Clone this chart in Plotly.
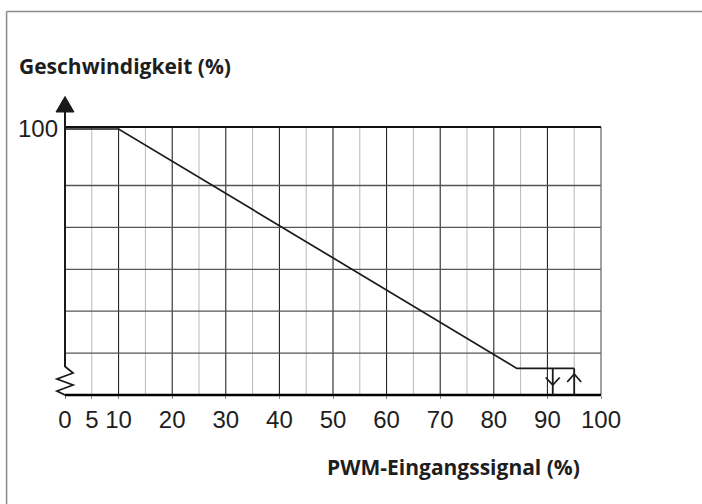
import plotly.graph_objects as go

# Fan speed characteristic vs. PWM input signal
pwm_pct = [0, 10, 84.3, 95]          # PWM-Eingangssignal (%)
speed_pct = [100, 100, 10, 10]       # Geschwindigkeit (%)

# hysteresis markers at the stop/start thresholds
hyst_pwm = [91, 95]
hyst_dir = ["down", "up"]

x_ticks = [0, 5, 10, 20, 30, 40, 50, 60, 70, 80, 90, 100]
x_tick_text = [str(v) for v in x_ticks]
x_major = [10, 20, 30, 40, 50, 60, 70, 80, 90]
x_minor = [5, 15, 25, 35, 45, 55, 65, 75, 85, 95]
y_grid = [15.75, 31.5, 47.25, 63.0, 78.75]
y_ticks = [100]
y_tick_text = ["100"]

Y_TOP = 100.75
LINE = "#1a1a1a"

fig = go.Figure()

fig.add_trace(go.Scatter(
    x=pwm_pct, y=speed_pct, mode="lines",
    line=dict(color=LINE, width=1.7), hoverinfo="skip", showlegend=False,
))

shapes = []
# grid
for v in x_minor:
    shapes.append(dict(type="line", xref="x", yref="y", x0=v, x1=v, y0=0, y1=Y_TOP,
                       line=dict(color="#b8b8b8", width=1), layer="below"))
for v in x_major:
    shapes.append(dict(type="line", xref="x", yref="y", x0=v, x1=v, y0=0, y1=Y_TOP,
                       line=dict(color="#111111", width=1), layer="below"))
for v in y_grid:
    shapes.append(dict(type="line", xref="x", yref="y", x0=0, x1=100, y0=v, y1=v,
                       line=dict(color="#555555", width=1.3), layer="below"))
# right and top border of the grid
shapes.append(dict(type="line", xref="paper", yref="paper", x0=1, x1=1, y0=0, y1=1,
                   line=dict(color="#6e6e6e", width=1.3)))
shapes.append(dict(type="line", xref="paper", yref="paper", x0=0, x1=1, y0=1, y1=1,
                   line=dict(color="#111111", width=2)))
# bottom axis
shapes.append(dict(type="line", xref="paper", yref="paper", x0=0, x1=1, y0=0, y1=0,
                   line=dict(color="#000000", width=2.4)))
# left axis with break and arrow head
shapes.append(dict(type="path", xref="paper", yref="paper",
                   xsizemode="pixel", ysizemode="pixel", xanchor=0, yanchor=1,
                   path="M0,-240 L0,16",
                   line=dict(color="#1a1a1a", width=2)))
shapes.append(dict(type="path", xref="paper", yref="paper",
                   xsizemode="pixel", ysizemode="pixel", xanchor=0, yanchor=0,
                   path="M0,28.5 L8,22 L-8,16 L8,10 L-8,4 L0,0",
                   line=dict(color="#1a1a1a", width=1.8)))
shapes.append(dict(type="path", xref="paper", yref="paper",
                   xsizemode="pixel", ysizemode="pixel", xanchor=0, yanchor=1,
                   path="M-9,15 L9,15 L0,30.5 Z",
                   fillcolor="#1a1a1a", line=dict(color="#1a1a1a", width=1)))
# hysteresis arrows
for xv, d in zip(hyst_pwm, hyst_dir):
    shapes.append(dict(type="line", xref="x", yref="y", x0=xv, x1=xv,
                       y0=0, y1=speed_pct[-1], line=dict(color=LINE, width=1.8)))
    if d == "down":
        p = "M-7,17.5 L0,10 L7,17.5"
    else:
        p = "M-7,13 L0,21 L7,13"
    shapes.append(dict(type="path", xref="x", yref="paper",
                       xsizemode="pixel", ysizemode="pixel", xanchor=xv, yanchor=0,
                       path=p, line=dict(color=LINE, width=1.8)))
# outer frame
shapes.append(dict(type="line", xref="paper", yref="paper", x0=-0.109, x1=-0.109,
                   y0=-0.5, y1=1.431, line=dict(color="#8a8a8a", width=1.5)))
shapes.append(dict(type="line", xref="paper", yref="paper", x0=-0.109, x1=1.3,
                   y0=1.431, y1=1.431, line=dict(color="#8a8a8a", width=1.5)))

annotations = [
    dict(text="<b>Geschwindigkeit (%)</b>", xref="paper", yref="paper",
         x=-0.089, y=1.226, xanchor="left", yanchor="middle", showarrow=False,
         font=dict(family="Open Sans", size=21, color="#1e1e1e")),
    dict(text="<b>PWM-Eingangssignal (%)</b>", xref="paper", yref="paper",
         x=0.964, y=-0.27, xanchor="right", yanchor="middle", showarrow=False,
         font=dict(family="Open Sans", size=21, color="#1e1e1e")),
]

fig.update_layout(
    width=702, height=504,
    margin=dict(l=65, r=101, t=127, b=109),
    paper_bgcolor="white", plot_bgcolor="white",
    shapes=shapes, annotations=annotations,
    font=dict(family="Liberation Sans, Arial, sans-serif", size=24, color="#1e1e1e"),
    xaxis=dict(range=[0, 100], tickvals=x_ticks, ticktext=x_tick_text,
               tickfont=dict(size=24),
               showgrid=False, zeroline=False, showline=False,
               ticks="outside", ticklen=3, tickcolor="#888888", tickwidth=1,
               ticklabelstandoff=0, fixedrange=True),
    yaxis=dict(range=[0, Y_TOP], tickvals=y_ticks, ticktext=y_tick_text,
               tickfont=dict(size=24),
               showgrid=False, zeroline=False, showline=False,
               ticks="", ticklabelstandoff=6, fixedrange=True),
)

fig.write_html("out.html")
